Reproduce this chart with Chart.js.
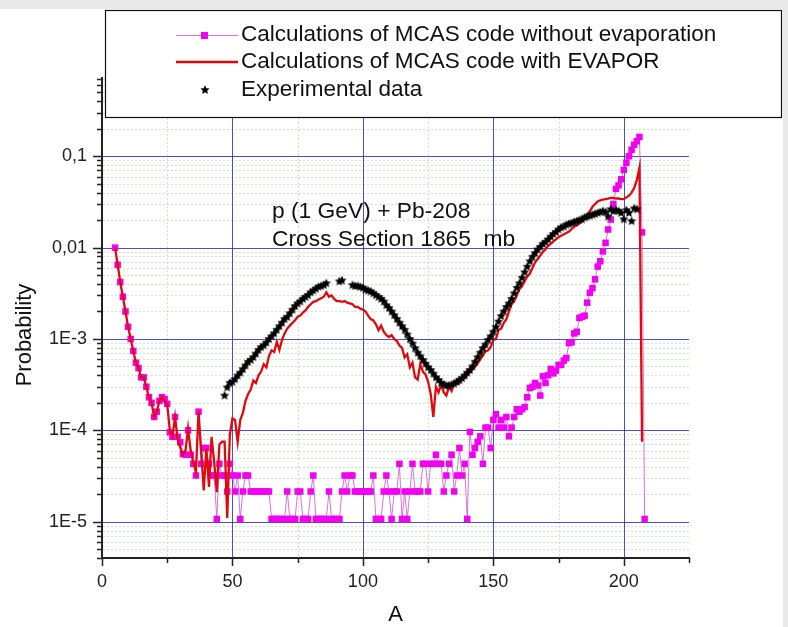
<!DOCTYPE html>
<html><head><meta charset="utf-8">
<script src="https://cdn.jsdelivr.net/npm/chart.js@4.4.1/dist/chart.umd.min.js"></script>
<style>html,body{margin:0;padding:0;background:#fff;}canvas{display:block;}</style>
</head><body><canvas id="c" width="788" height="627"></canvas>
<script>
// ---------- DATA ----------
const A_FIRST = 5;
// Calculations of MCAS code without evaporation, A = 5 .. 208
const noEvap = [
 1.0e-2, 6.5e-3, 4.2e-3, 2.9e-3, 2.0e-3, 1.36e-3, 1.0e-3, 7.4e-4, 5.5e-4, 4.8e-4,
 3.8e-4, 3.8e-4, 3.0e-4, 2.3e-4, 2.0e-4, 1.4e-4, 1.6e-4, 2.1e-4, 2.3e-4, 2.2e-4,
 1.95e-4, 9.5e-5, 8.5e-5, 1.4e-4, 8.5e-5, 7.4e-5, 5.5e-5, 5.4e-5, 1.0e-4, 5.4e-5,
 4.3e-5, 3.2e-5, 1.6e-4, 4.3e-5, 6.4e-5, 6.4e-5, 4.3e-5, 3.2e-5, 3.2e-5, 1.07e-5,
 4.3e-5, 3.2e-5, 3.2e-5, 2.14e-5, 4.3e-5, 3.2e-5, 2.14e-5, 3.2e-5, 1.07e-5, 2.14e-5,
 3.2e-5, 3.2e-5, 2.14e-5, 2.14e-5, 2.14e-5, 2.14e-5, 2.14e-5, 2.14e-5, 2.14e-5, 2.14e-5,
 1.07e-5, 1.07e-5, 1.07e-5, 1.07e-5, 1.07e-5, 1.07e-5, 2.14e-5, 1.07e-5, 1.07e-5, 1.07e-5,
 2.14e-5, 2.14e-5, 1.07e-5, 1.07e-5, 1.07e-5, 2.14e-5, 3.2e-5, 1.07e-5, 1.07e-5, 1.07e-5,
 1.07e-5, 1.07e-5, 2.14e-5, 1.07e-5, 1.07e-5, 1.07e-5, 1.07e-5, 2.14e-5, 3.2e-5, 2.14e-5,
 3.2e-5, 3.2e-5, 2.14e-5, 2.14e-5, 2.14e-5, 2.14e-5, 2.14e-5, 2.14e-5, 2.14e-5, 3.2e-5,
 1.07e-5, 1.07e-5, 1.07e-5, 2.14e-5, 3.2e-5, 2.14e-5, 1.07e-5, 2.14e-5, 2.14e-5, 4.3e-5,
 1.07e-5, 2.14e-5, 1.07e-5, 2.14e-5, 4.3e-5, 2.14e-5, 2.14e-5, 2.14e-5, 4.3e-5, 4.3e-5,
 2.14e-5, 4.3e-5, 4.3e-5, 5.4e-5, 4.3e-5, 4.3e-5, 2.14e-5, 3.2e-5, 4.3e-5, 5.4e-5,
 2.14e-5, 3.2e-5, 6.4e-5, 3.2e-5, 4.3e-5, 1.07e-5, 9.6e-5, 5.4e-5, 6.4e-5, 7.5e-5,
 8.6e-5, 4.3e-5, 1.07e-4, 1.07e-4, 6.4e-5, 1.3e-4, 1.5e-4, 1.07e-4, 1.3e-4, 1.07e-4,
 1.4e-4, 8.6e-5, 1.07e-4, 1.4e-4, 1.7e-4, 1.6e-4, 1.7e-4, 1.8e-4, 2.3e-4, 2.9e-4,
 3.0e-4, 3.3e-4, 3.1e-4, 2.4e-4, 3.9e-4, 3.3e-4, 4.0e-4, 4.7e-4, 4.2e-4, 4.5e-4,
 5.2e-4, 5.2e-4, 5.8e-4, 6.2e-4, 9.0e-4, 9.2e-4, 1.15e-3, 1.2e-3, 1.7e-3, 1.75e-3,
 1.8e-3, 2.5e-3, 3.2e-3, 3.6e-3, 4.5e-3, 6.2e-3, 7.1e-3, 9.1e-3, 1.13e-2, 1.58e-2,
 2.03e-2, 3.0e-2, 4.4e-2, 4.8e-2, 5.6e-2, 7.1e-2, 8.5e-2, 1.0e-1, 1.18e-1, 1.34e-1,
 1.46e-1, 1.63e-1, 1.47e-2, 1.07e-5
];
// Calculations of MCAS code with EVAPOR, A = 5 .. 207
const withEvapor = [
 1.0e-2, 6.5e-3, 4.2e-3, 2.9e-3, 2.0e-3, 1.36e-3, 1.0e-3, 7.4e-4, 5.5e-4, 4.8e-4,
 3.8e-4, 3.8e-4, 3.0e-4, 2.3e-4, 2.0e-4, 1.4e-4, 1.6e-4, 2.1e-4, 2.3e-4, 2.1e-4,
 1.9e-4, 1.0e-4, 8.5e-5, 1.4e-4, 8.0e-5, 6.5e-5, 5.4e-5, 6.0e-5, 1.05e-4, 6.0e-5,
 4.5e-5, 3.5e-5, 1.6e-4, 6.0e-5, 2.2e-5, 6.3e-5, 2.4e-5, 8.5e-5, 4.5e-5, 2.1e-5,
 7.0e-5, 7.5e-5, 7.5e-5, 1.1e-5, 9.0e-5, 1.35e-4, 1.3e-4, 7.5e-5, 1.3e-4, 1.55e-4,
 2.1e-4, 2.5e-4, 2.8e-4, 3.5e-4, 3.3e-4, 4.0e-4, 4.4e-4, 5.3e-4, 4.9e-4, 6.5e-4,
 7.5e-4, 7.2e-4, 9.3e-4, 7.6e-4, 9.8e-4, 1.15e-3, 1.3e-3, 1.4e-3, 1.5e-3, 1.6e-3,
 1.75e-3, 1.8e-3, 1.95e-3, 2.05e-3, 2.25e-3, 2.4e-3, 2.55e-3, 2.6e-3, 2.7e-3, 2.8e-3,
 2.9e-3, 3.25e-3, 2.9e-3, 3.0e-3, 2.75e-3, 2.6e-3, 2.6e-3, 2.55e-3, 2.6e-3, 2.5e-3,
 2.45e-3, 2.4e-3, 2.25e-3, 2.25e-3, 2.15e-3, 2.1e-3, 2.0e-3, 1.8e-3, 1.65e-3, 1.6e-3,
 1.45e-3, 1.25e-3, 1.4e-3, 1.2e-3, 1.1e-3, 1.05e-3, 1.1e-3, 1.0e-3, 9.5e-4, 8.5e-4,
 8.0e-4, 6.3e-4, 6.8e-4, 4.9e-4, 5.5e-4, 3.8e-4, 3.6e-4, 5.3e-4, 4.4e-4, 4.1e-4,
 3.4e-4, 2.5e-4, 1.4e-4, 3.0e-4, 2.6e-4, 3.2e-4, 2.6e-4, 2.4e-4, 3.0e-4, 2.7e-4,
 3.4e-4, 3.2e-4, 3.3e-4, 3.6e-4, 3.7e-4, 4.0e-4, 4.3e-4, 4.6e-4, 5.0e-4, 5.4e-4,
 6.0e-4, 6.6e-4, 7.3e-4, 7.5e-4, 8.2e-4, 9.8e-4, 1.0e-3, 1.25e-3, 1.3e-3, 1.5e-3,
 1.65e-3, 2.0e-3, 2.4e-3, 2.6e-3, 3.0e-3, 3.5e-3, 3.8e-3, 4.3e-3, 4.8e-3, 5.2e-3,
 6.0e-3, 6.9e-3, 7.5e-3, 8.2e-3, 9.0e-3, 9.6e-3, 1.05e-2, 1.1e-2, 1.17e-2, 1.23e-2,
 1.3e-2, 1.35e-2, 1.4e-2, 1.45e-2, 1.5e-2, 1.6e-2, 1.7e-2, 1.75e-2, 1.85e-2, 1.95e-2,
 2.1e-2, 2.3e-2, 2.5e-2, 2.8e-2, 3.0e-2, 3.2e-2, 3.3e-2, 3.35e-2, 3.4e-2, 3.45e-2,
 3.5e-2, 3.5e-2, 3.45e-2, 3.45e-2, 3.4e-2, 3.4e-2, 3.55e-2, 3.7e-2, 4.0e-2, 4.5e-2,
 5.5e-2, 7.5e-2, 7.5e-5
];
// Experimental data
const expA = [47,48,49,50,51,52,53,54,55,56,57,58,59,60,61,62,63,64,65,66,67,68,69,70,71,72,73,74,75,76,77,78,79,80,81,82,83,84,85,86,
 91,92,96,97,98,99,100,101,102,103,104,105,106,107,108,109,110,111,112,113,114,115,116,117,118,119,120,121,122,123,124,125,126,127,128,129,130,
 131,132,133,134,135,136,137,138,139,140,141,142,143,144,145,146,147,148,149,150,151,152,153,154,155,156,157,158,159,160,
 161,162,163,164,165,166,167,168,169,170,171,172,173,174,175,176,177,178,179,180,181,182,183,184,185,186,187,188,189,190,
 191,192,193,194,195,196,197,198,199,200,201,202,203,204,205];
const expP = [2.40e-4,2.95e-4,3.31e-4,3.39e-4,3.63e-4,3.98e-4,4.27e-4,4.68e-4,5.13e-4,5.62e-4,5.89e-4,6.31e-4,6.92e-4,7.59e-4,8.13e-4,8.51e-4,9.12e-4,1.0e-3,1.07e-3,1.15e-3,
 1.26e-3,1.38e-3,1.51e-3,1.66e-3,1.74e-3,1.91e-3,2.09e-3,2.29e-3,2.45e-3,2.57e-3,2.75e-3,2.88e-3,3.02e-3,3.24e-3,3.39e-3,3.55e-3,3.72e-3,3.80e-3,3.89e-3,4.07e-3,
 4.27e-3,4.37e-3,3.89e-3,3.80e-3,3.80e-3,3.72e-3,3.63e-3,3.47e-3,3.39e-3,3.31e-3,3.16e-3,3.02e-3,2.88e-3,2.75e-3,2.57e-3,2.34e-3,2.19e-3,2.0e-3,1.82e-3,1.66e-3,
 1.51e-3,1.38e-3,1.26e-3,1.12e-3,1.0e-3,8.91e-4,7.94e-4,7.08e-4,6.46e-4,5.89e-4,5.37e-4,4.9e-4,4.57e-4,4.17e-4,3.8e-4,3.55e-4,3.31e-4,
 3.16e-4,3.09e-4,3.09e-4,3.16e-4,3.24e-4,3.39e-4,3.55e-4,3.72e-4,3.98e-4,4.27e-4,4.57e-4,5.01e-4,5.62e-4,6.31e-4,7.08e-4,7.94e-4,8.71e-4,9.77e-4,1.07e-3,1.2e-3,
 1.35e-3,1.55e-3,1.78e-3,2.0e-3,2.24e-3,2.45e-3,2.75e-3,3.16e-3,3.63e-3,4.07e-3,
 4.68e-3,5.37e-3,6.17e-3,7.08e-3,7.94e-3,8.71e-3,9.55e-3,1.02e-2,1.10e-2,1.15e-2,1.23e-2,1.32e-2,1.41e-2,1.48e-2,1.58e-2,1.66e-2,1.70e-2,1.78e-2,1.82e-2,1.86e-2,
 1.91e-2,1.95e-2,2.0e-2,2.04e-2,2.14e-2,2.19e-2,2.24e-2,2.29e-2,2.34e-2,2.4e-2,
 2.45e-2,2.51e-2,2.45e-2,2.19e-2,2.63e-2,2.51e-2,2.57e-2,2.51e-2,2.4e-2,2.04e-2,2.57e-2,2.4e-2,1.95e-2,2.69e-2,2.63e-2];

const xTickVals = [0, 50, 100, 150, 200];
const yTickVals = [1e-5, 1e-4, 1e-3, 1e-2, 1e-1];
const yTickLabels = ['1E-5', '1E-4', '1E-3', '0,01', '0,1'];
const legendLabels = ['Calculations of MCAS code without evaporation', 'Calculations of MCAS code with EVAPOR', 'Experimental data'];
const noteLines = ['p (1 GeV) + Pb-208', 'Cross Section 1865  mb'];
const xTitle = 'A';
const yTitle = 'Probability';

// ---------- BUILD ----------
const FONT = '"Liberation Sans", Arial, Helvetica, sans-serif';
Chart.defaults.font.family = FONT;
const toPts = (vals) => vals.map((v, i) => ({x: A_FIRST + i, y: v}));
const expPts = expA.map((a, i) => ({x: a, y: expP[i]}));

function makeStar(r) {
  const c = document.createElement('canvas');
  const s = Math.ceil(r * 2 + 2);
  c.width = s; c.height = s;
  const g = c.getContext('2d');
  g.fillStyle = '#000';
  g.beginPath();
  for (let k = 0; k < 10; k++) {
    const rr = k % 2 === 0 ? r : r * 0.48;
    const ang = -Math.PI / 2 + k * Math.PI / 5;
    const px = s / 2 + rr * Math.cos(ang), py = s / 2 + rr * Math.sin(ang);
    k === 0 ? g.moveTo(px, py) : g.lineTo(px, py);
  }
  g.closePath(); g.fill();
  return c;
}
const starImg = makeStar(4.8);

const MAG = '#f200f2', MAGLINE = 'rgba(205,70,205,0.75)', RED = '#e3080c';
const MAJOR = 'rgba(45,45,200,0.85)', MINOR = 'rgba(165,215,165,0.6)';

const decorPlugin = {
  id: 'decor',
  beforeDraw(chart) {
    const ctx = chart.ctx;
    ctx.save();
    ctx.fillStyle = '#fff'; ctx.fillRect(0, 0, chart.width, chart.height);
    ctx.fillStyle = '#e9e9e9'; ctx.fillRect(0, 0, chart.width, 9); ctx.fillRect(783, 0, 5, chart.height);
    ctx.restore();
  },
  beforeDatasetsDraw(chart) {
    const {ctx, chartArea: a, scales: {x, y}} = chart;
    ctx.save();
    ctx.lineWidth = 1;
    ctx.strokeStyle = MINOR; ctx.setLineDash([2, 2]);
    for (let e = -6; e <= 0; e++) {
      for (let m = 2; m <= 9; m++) {
        const v = m * Math.pow(10, e);
        if (v <= y.min || v >= y.max) continue;
        const py = Math.round(y.getPixelForValue(v)) + 0.5;
        ctx.beginPath(); ctx.moveTo(a.left + 1, py); ctx.lineTo(a.right, py); ctx.stroke();
      }
    }
    for (let v = 25; v < 225; v += 50) {
      const px = Math.round(x.getPixelForValue(v)) + 0.5;
      ctx.beginPath(); ctx.moveTo(px, a.top); ctx.lineTo(px, a.bottom - 1); ctx.stroke();
    }
    ctx.setLineDash([]);
    ctx.strokeStyle = MAJOR;
    yTickVals.forEach(v => {
      const py = Math.round(y.getPixelForValue(v)) + 0.5;
      ctx.beginPath(); ctx.moveTo(a.left + 1, py); ctx.lineTo(a.right, py); ctx.stroke();
    });
    xTickVals.forEach(v => {
      if (v === 0) return;
      const px = Math.round(x.getPixelForValue(v)) + 0.5;
      ctx.beginPath(); ctx.moveTo(px, a.top); ctx.lineTo(px, a.bottom - 1); ctx.stroke();
    });
    ctx.restore();
  },
  afterDraw(chart) {
    const {ctx, chartArea: a, scales: {x, y}} = chart;
    ctx.save();
    ctx.strokeStyle = '#222'; ctx.lineWidth = 1.5;
    for (let e = -6; e <= 0; e++) {
      for (let m = 1; m <= 9; m++) {
        const v = m * Math.pow(10, e);
        if (v < y.min || v > y.max) continue;
        const py = Math.round(y.getPixelForValue(v)) + 0.5;
        const len = m === 1 ? 9 : 5;
        ctx.beginPath(); ctx.moveTo(a.left - len, py); ctx.lineTo(a.left, py); ctx.stroke();
      }
    }
    for (let v = 0; v <= 225; v += 25) {
      const px = Math.round(x.getPixelForValue(v)) + 0.5;
      const len = v % 50 === 0 ? 8 : 5;
      ctx.beginPath(); ctx.moveTo(px, a.bottom); ctx.lineTo(px, a.bottom + len); ctx.stroke();
    }
    ctx.fillStyle = '#111';
    ctx.font = '22.8px ' + FONT;
    ctx.textBaseline = 'middle'; ctx.textAlign = 'left';
    ctx.fillText(noteLines[0], 272, 212);
    ctx.fillText(noteLines[1], 272, 240);
    ctx.font = '22px ' + FONT;
    ctx.textAlign = 'center';
    ctx.fillText(xTitle, (a.left + a.right) / 2, 615);
    ctx.save(); ctx.translate(25, 335); ctx.rotate(-Math.PI / 2); ctx.fillText(yTitle, 0, 0); ctx.restore();
    ctx.fillStyle = '#fff'; ctx.fillRect(105, 10, 676, 107);
    ctx.strokeStyle = '#111'; ctx.lineWidth = 1.2; ctx.strokeRect(105.5, 10.5, 676, 107);
    const rows = [35, 62, 90];
    ctx.lineWidth = 1; ctx.strokeStyle = MAGLINE;
    ctx.beginPath(); ctx.moveTo(176, rows[0] + 0.5); ctx.lineTo(238, rows[0] + 0.5); ctx.stroke();
    ctx.fillStyle = MAG; ctx.fillRect(201, rows[0] - 3, 7, 7);
    ctx.lineWidth = 2.6; ctx.strokeStyle = RED;
    ctx.beginPath(); ctx.moveTo(176, rows[1]); ctx.lineTo(238, rows[1]); ctx.stroke();
    ctx.drawImage(starImg, 205 - starImg.width / 2, rows[2] - starImg.height / 2);
    ctx.fillStyle = '#111'; ctx.textAlign = 'left'; ctx.font = '22.5px ' + FONT;
    legendLabels.forEach((t, i) => ctx.fillText(t, 241, rows[i]));
    ctx.restore();
  }
};

new Chart(document.getElementById('c'), {
  type: 'line',
  data: {
    datasets: [
      {label: legendLabels[2], data: expPts, showLine: false, pointStyle: starImg, pointRadius: 5, order: 0},
      {label: legendLabels[1], data: toPts(withEvapor), borderColor: RED, borderWidth: 2.3, pointRadius: 0, tension: 0, order: 1},
      {label: legendLabels[0], data: toPts(noEvap), borderColor: MAGLINE, borderWidth: 1, pointStyle: 'rect', pointRadius: 4.6,
       pointBackgroundColor: MAG, pointBorderWidth: 0, pointBorderColor: MAG, tension: 0, order: 2}
    ]
  },
  options: {
    responsive: false, animation: false, devicePixelRatio: 1,
    layout: {padding: {top: 78, right: 99, left: 0, bottom: 0}},
    plugins: {legend: {display: false}, tooltip: {enabled: false}},
    scales: {
      x: {
        type: 'linear', min: 0, max: 225,
        afterFit(s) { s.height = 69; },
        afterBuildTicks(s) { s.ticks = xTickVals.map(v => ({value: v})); },
        ticks: {font: {size: 18}, color: '#222', padding: 13, maxRotation: 0, autoSkip: false, callback: v => String(v)},
        grid: {display: true, drawOnChartArea: false, drawTicks: false},
        border: {display: true, color: '#222', width: 2}
      },
      y: {
        type: 'logarithmic', min: 4e-6, max: 0.72,
        afterFit(s) { s.width = 102; },
        afterBuildTicks(s) { s.ticks = yTickVals.map(v => ({value: v})); },
        ticks: {font: {size: 18}, color: '#222', padding: 15, autoSkip: false,
          callback: v => { const i = yTickVals.findIndex(t => Math.abs(Math.log10(t) - Math.log10(v)) < 1e-6); return i >= 0 ? yTickLabels[i] : ''; }},
        grid: {display: true, drawOnChartArea: false, drawTicks: false},
        border: {display: true, color: '#222', width: 2}
      }
    }
  },
  plugins: [decorPlugin]
});
</script></body></html>
